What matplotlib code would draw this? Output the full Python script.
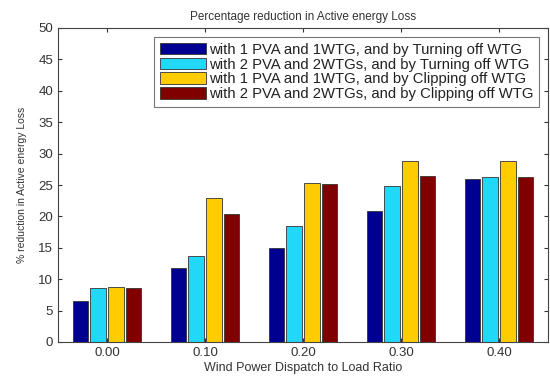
import matplotlib
matplotlib.use("Agg")
import matplotlib.pyplot as plt
import numpy as np

plt.rcParams['font.family'] = ['Liberation Sans', 'DejaVu Sans']

categories = ["0.00", "0.10", "0.20", "0.30", "0.40"]
series_labels = [
    "with 1 PVA and 1WTG, and by Turning off WTG",
    "with 2 PVA and 2WTGs, and by Turning off WTG",
    "with 1 PVA and 1WTG, and by Clipping off WTG",
    "with 2 PVA and 2WTGs, and by Clipping off WTG",
]
turn_1pva = [6.5, 11.8, 15.0, 20.9, 25.9]
turn_2pva = [8.6, 13.7, 18.4, 24.8, 26.3]
clip_1pva = [8.7, 23.0, 25.3, 28.8, 28.8]
clip_2pva = [8.6, 20.4, 25.1, 26.5, 26.2]
series = [turn_1pva, turn_2pva, clip_1pva, clip_2pva]
colors = ["#000090", "#22D8F8", "#FFCC00", "#800000"]

fig = plt.figure(figsize=(5.5, 3.78), dpi=100)
ax = fig.add_axes([58/550, 1 - 342/378, (548-58)/550, (342-28)/378])

x = np.arange(len(categories))
width = 0.155
step = 0.183
for i, (vals, c, lab) in enumerate(zip(series, colors, series_labels)):
    ax.bar(x + (i - 1.5) * step, vals, width, color=c, edgecolor="#333333",
           linewidth=0.6, label=lab)

ax.set_xlim(-0.5, 4.5)
ax.set_ylim(0, 50)
ax.set_yticks(np.arange(0, 51, 5))
ax.set_xticks(x)
ax.set_xticklabels(categories)
ax.tick_params(direction="in", top=True, right=True, labelsize=9.5,
               colors="#333333", length=3)
for s in ax.spines.values():
    s.set_color("#444444")
    s.set_linewidth(0.8)

ax.set_title("Percentage reduction in Active energy Loss", fontsize=8.5,
             color="#333333", pad=6)
ax.set_xlabel("Wind Power Dispatch to Load Ratio", fontsize=9, color="#333333",
              labelpad=2)
ax.set_ylabel("% reduction in Active energy Loss", fontsize=7.5, color="#333333",
              labelpad=8)

leg = ax.legend(loc="upper right", fontsize=10.7, handlelength=3.1,
                handleheight=0.8, frameon=True, fancybox=False,
                borderaxespad=0.6, labelspacing=0.05, handletextpad=0.15,
                borderpad=0.4)
leg.get_frame().set_edgecolor("#555555")
leg.get_frame().set_linewidth(0.8)
for t in leg.get_texts():
    t.set_color("#222222")

fig.savefig("out.png", dpi=100)
